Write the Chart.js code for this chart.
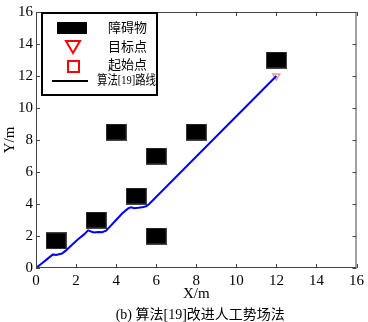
<!DOCTYPE html>
<html>
<head>
<meta charset="utf-8">
<script src="https://cdn.jsdelivr.net/npm/chart.js@4.4.0/dist/chart.umd.min.js"></script>
<style>
body { margin: 0; background: #fff; }
</style>
</head>
<body>
<canvas id="myChart" width="368" height="322"></canvas>
<script>
// obstacles (centres)
var obstacleX = [1, 3, 4, 5, 6, 6, 8, 12];
var obstacleY = [1.7, 3, 8.5, 4.5, 7, 2, 8.5, 13];

// path of algorithm [19]
var pathX = [0, 0.3, 0.6, 0.85, 1.0, 1.15, 1.3, 1.5, 1.8, 2.1, 2.4, 2.6, 2.75, 2.9, 3.1, 3.3, 3.5, 3.7, 4.0, 4.3, 4.6, 4.75, 4.9, 5.1, 5.3, 5.5, 5.65, 12];
var pathY = [0, 0.3, 0.6, 0.85, 0.82, 0.86, 0.9, 1.1, 1.45, 1.8, 2.1, 2.35, 2.28, 2.22, 2.25, 2.24, 2.33, 2.6, 3.0, 3.4, 3.72, 3.8, 3.74, 3.76, 3.79, 3.86, 4.0, 12];

var startX = [0];
var startY = [0];
var goalX = [12];
var goalY = [12];

var axisTicks = [0, 2, 4, 6, 8, 10, 12, 14, 16];
var legendLabels = ["障碍物", "目标点", "起始点", "算法[19]路线"];
var xTitle = "X/m";
var yTitle = "Y/m";
var caption = "(b) 算法[19]改进人工势场法";

function toPoints(xs, ys) {
    var pts = [];
    for (var i = 0; i < xs.length; i++) {
        pts.push({ x: xs[i], y: ys[i] });
    }
    return pts;
}

// black block used as obstacle marker
var block = document.createElement("canvas");
block.width = 21;
block.height = 17;
var bctx = block.getContext("2d");
bctx.fillStyle = "#000";
bctx.fillRect(0, 0, 21, 17);
bctx.strokeStyle = "#444";
bctx.strokeRect(0.5, 0.5, 20, 16);

var serif = "'Liberation Serif', 'Times New Roman', serif";
var cjk = "'Liberation Serif', 'Noto Sans CJK SC', serif";

// frame, inward ticks, legend, titles
const decorPlugin = {
    id: "decor",
    afterDraw(chart) {
        const ctx = chart.ctx;
        const ca = chart.chartArea;
        const { x, y } = chart.scales;
        ctx.save();
        ctx.strokeStyle = "#444";
        ctx.lineWidth = 1;
        ctx.strokeRect(ca.left + 0.5, ca.top + 0.5, ca.right - ca.left - 1, ca.bottom - ca.top - 1);
        ctx.beginPath();
        axisTicks.forEach(function (v) {
            var px = Math.round(x.getPixelForValue(v)) + 0.5;
            ctx.moveTo(px, ca.bottom);
            ctx.lineTo(px, ca.bottom - 4);
            ctx.moveTo(px, ca.top);
            ctx.lineTo(px, ca.top + 4);
            var py = Math.round(y.getPixelForValue(v)) + 0.5;
            ctx.moveTo(ca.left, py);
            ctx.lineTo(ca.left + 4, py);
            ctx.moveTo(ca.right, py);
            ctx.lineTo(ca.right - 4, py);
        });
        ctx.stroke();

        // legend box
        var lx = ca.left + 6, ly = ca.top + 1;
        ctx.fillStyle = "#fff";
        ctx.fillRect(lx, ly, 115, 82);
        ctx.strokeStyle = "#000";
        ctx.lineWidth = 2;
        ctx.strokeRect(lx, ly, 115, 82);

        ctx.fillStyle = "#000";
        ctx.fillRect(lx + 15, ly + 9, 30, 12);

        ctx.strokeStyle = "#f00";
        ctx.lineWidth = 2;
        ctx.beginPath();
        ctx.moveTo(lx + 24, ly + 28);
        ctx.lineTo(lx + 38, ly + 28);
        ctx.lineTo(lx + 31, ly + 40);
        ctx.closePath();
        ctx.stroke();
        ctx.strokeRect(lx + 26, ly + 48, 11, 11);

        ctx.strokeStyle = "#000";
        ctx.beginPath();
        ctx.moveTo(lx + 10, ly + 68);
        ctx.lineTo(lx + 46, ly + 68);
        ctx.stroke();

        ctx.fillStyle = "#000";
        ctx.font = "13px " + cjk;
        ctx.textBaseline = "middle";
        ctx.textAlign = "left";
        ctx.fillText(legendLabels[0], lx + 66, ly + 16);
        ctx.fillText(legendLabels[1], lx + 66, ly + 35);
        ctx.fillText(legendLabels[2], lx + 66, ly + 53);
        ctx.fillText(legendLabels[3], lx + 55, ly + 68, 59);

        // axis titles and caption
        ctx.font = "15px " + serif;
        ctx.textAlign = "center";
        ctx.fillText(xTitle, (ca.left + ca.right) / 2, ca.bottom + 26);
        ctx.save();
        ctx.translate(10, (ca.top + ca.bottom) / 2);
        ctx.rotate(-Math.PI / 2);
        ctx.fillText(yTitle, 0, 0);
        ctx.restore();
        ctx.font = "14px " + cjk;
        ctx.fillText(caption, (ca.left + ca.right) / 2 + 4, ca.bottom + 47);
        ctx.restore();
    },
};

const data = {
    datasets: [
        {
            label: legendLabels[3],
            data: toPoints(pathX, pathY),
            showLine: true,
            borderColor: "#0000ff",
            borderWidth: 2,
            pointRadius: 0,
            tension: 0,
        },
        {
            label: legendLabels[0],
            data: toPoints(obstacleX, obstacleY),
            pointStyle: block,
            pointRadius: 10,
        },
        {
            label: legendLabels[1],
            data: toPoints(goalX, goalY),
            pointStyle: "triangle",
            rotation: 180,
            pointRadius: 4,
            borderColor: "#e0a080",
            backgroundColor: "#fff",
            borderWidth: 1.5,
        },
        {
            label: legendLabels[2],
            data: toPoints(startX, startY),
            pointStyle: "rect",
            pointRadius: 2.5,
            borderColor: "#e060d0",
            backgroundColor: "rgba(255,255,255,0)",
            borderWidth: 1,
        },
    ],
};

const config = {
    type: "scatter",
    data,
    options: {
        responsive: false,
        animation: false,
        layout: { padding: { top: 12, right: 9, left: 0, bottom: 0 } },
        plugins: {
            legend: { display: false },
            tooltip: { enabled: false },
        },
        scales: {
            x: {
                type: "linear",
                min: 0,
                max: 16,
                grid: { display: false, drawTicks: false },
                border: { display: false },
                ticks: {
                    stepSize: 2,
                    maxRotation: 0,
                    padding: 4,
                    color: "#000",
                    font: { family: serif, size: 15 },
                },
                afterFit: function (scale) {
                    scale.height = 54;
                },
            },
            y: {
                type: "linear",
                min: 0,
                max: 16,
                grid: { display: false, drawTicks: false },
                border: { display: false },
                ticks: {
                    stepSize: 2,
                    padding: 3,
                    color: "#000",
                    font: { family: serif, size: 15 },
                },
                afterFit: function (scale) {
                    scale.width = 36;
                },
            },
        },
    },
    plugins: [decorPlugin],
};

const myChart = new Chart(document.getElementById("myChart"), config);
</script>
</body>
</html>
